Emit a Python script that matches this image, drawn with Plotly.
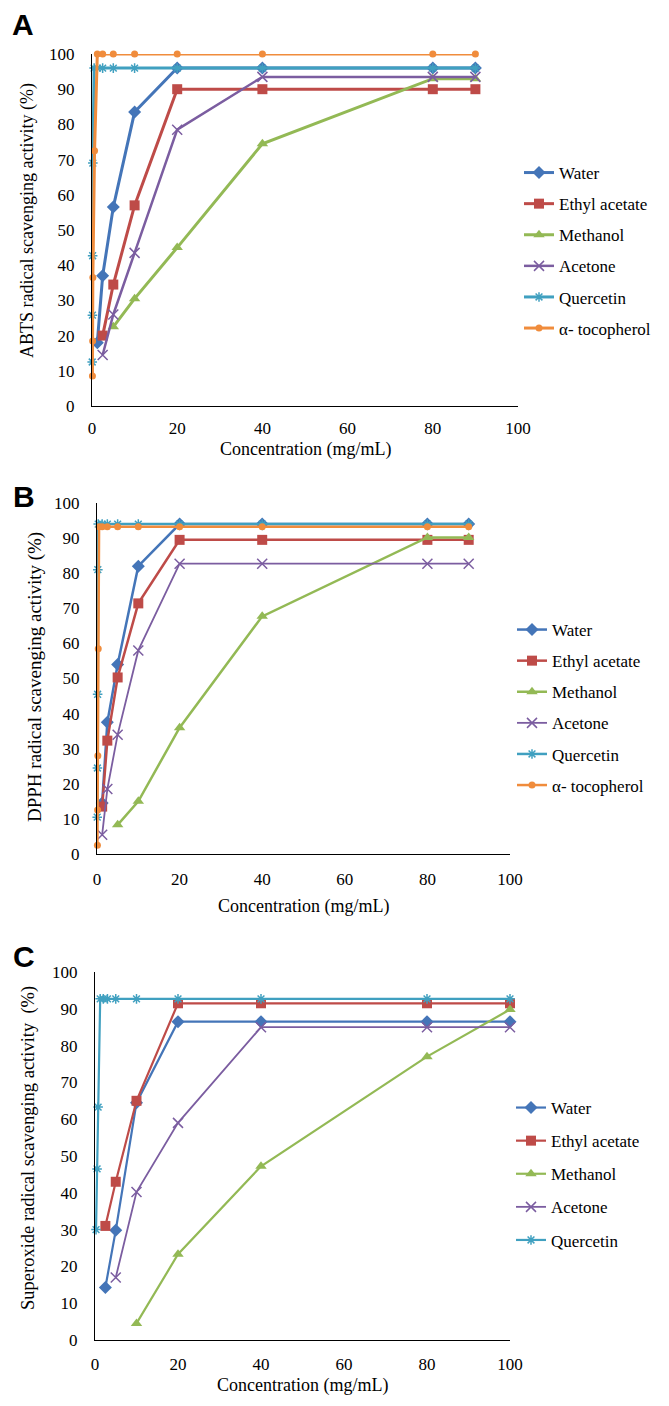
import plotly.graph_objects as go

W, H = 669, 1406
OFF = 8  # page body margin offset of the rendered figure

# ---------------- Panel A (ABTS) ----------------
water_x_A = [1.25, 2.5, 5, 10, 20, 40, 80, 90]
water_A = [18, 37, 56.5, 83.5, 96, 96, 96, 96]
ethyl_x_A = [2.5, 5, 10, 20, 40, 80, 90]
ethyl_A = [20, 34.5, 57, 90, 90, 90, 90]
methanol_x_A = [5, 10, 20, 40, 80, 90]
methanol_A = [22.5, 30.5, 45, 74.5, 93, 93]
acetone_x_A = [2.5, 5, 10, 20, 40, 80, 90]
acetone_A = [14.5, 26, 43.5, 78.5, 93.5, 93.5, 93.5]
quercetin_x_A = [0.05, 0.1, 0.15, 0.2, 0.5, 1.25, 2.5, 5, 10, 20, 40, 80, 90]
quercetin_A = [12.5, 25.8, 42.7, 69, 96, 96, 96, 96, 96, 96, 96, 96, 96]
toco_x_A = [0.1, 0.15, 0.2, 0.6, 1.25, 2.5, 5, 10, 20, 40, 80, 90]
toco_A = [8.5, 18.5, 36.5, 72.5, 100, 100, 100, 100, 100, 100, 100, 100]

# ---------------- Panel B (DPPH) ----------------
water_x_B = [1.25, 2.5, 5, 10, 20, 40, 80, 90]
water_B = [14.5, 37.5, 54, 82, 94, 94, 94, 94]
ethyl_x_B = [1.25, 2.5, 5, 10, 20, 40, 80, 90]
ethyl_B = [13.5, 32.3, 50.3, 71.4, 89.5, 89.5, 89.5, 89.5]
methanol_x_B = [5, 10, 20, 40, 80, 90]
methanol_B = [8.3, 15, 36, 67.7, 90.2, 90.2]
acetone_x_B = [1.25, 2.5, 5, 10, 20, 40, 80, 90]
acetone_B = [5.5, 18.5, 34, 58, 82.7, 82.7, 82.7, 82.7]
quercetin_x_B = [0.05, 0.1, 0.15, 0.2, 0.3, 1.25, 2.5, 5, 10, 20, 40, 80, 90]
quercetin_B = [10.5, 24.5, 45.5, 81, 94, 94, 94, 94, 94, 94, 94, 94, 94]
toco_x_B = [0.1, 0.15, 0.2, 0.3, 0.5, 1.25, 2.5, 5, 10, 20, 40, 80, 90]
toco_B = [2.5, 12.5, 28, 58.5, 93.2, 93.2, 93.2, 93.2, 93.2, 93.2, 93.2, 93.2, 93.2]

# ---------------- Panel C (Superoxide) ----------------
water_x_C = [2.5, 5, 10, 20, 40, 80, 100]
water_C = [14.3, 29.8, 64.5, 86.5, 86.5, 86.5, 86.5]
ethyl_x_C = [2.5, 5, 10, 20, 40, 80, 100]
ethyl_C = [31, 43, 65, 91.5, 91.5, 91.5, 91.5]
methanol_x_C = [10, 20, 40, 80, 100]
methanol_C = [4.5, 23.3, 47.2, 77, 89.8]
acetone_x_C = [5, 10, 20, 40, 80, 100]
acetone_C = [17, 40.2, 59, 85, 85, 85]
quercetin_x_C = [0.25, 0.5, 0.75, 1.25, 2, 3, 5, 10, 20, 40, 80, 100]
quercetin_C = [30, 46.5, 63.3, 92.7, 92.7, 92.7, 92.7, 92.7, 92.7, 92.7, 92.7, 92.7]

names = ["Water", "Ethyl acetate", "Methanol", "Acetone", "Quercetin", "α- tocopherol"]
x_ticks = [0, 20, 40, 60, 80, 100]
y_ticks = [0, 10, 20, 30, 40, 50, 60, 70, 80, 90, 100]

colors = {
    "Water": "#4475B8",
    "Ethyl acetate": "#BE4B48",
    "Methanol": "#93B955",
    "Acetone": "#7B5DA0",
    "Quercetin": "#40A0C0",
    "α- tocopherol": "#F08C3C",
}
symbols = {
    "Water": "diamond",
    "Ethyl acetate": "square",
    "Methanol": "triangle-up",
    "Acetone": "x-thin-open",
    "Quercetin": "asterisk-open",
    "α- tocopherol": "circle",
}
msizes = {
    "Water": 10,
    "Ethyl acetate": 10,
    "Methanol": 10,
    "Acetone": 10,
    "Quercetin": 8,
    "α- tocopherol": 7,
}

SERIF = "Liberation Serif, Times New Roman, serif"
SANS = "Liberation Sans, Arial, sans-serif"

panels = [
    ("x", "y", "legend", [
        (water_x_A, water_A), (ethyl_x_A, ethyl_A), (methanol_x_A, methanol_A),
        (acetone_x_A, acetone_A), (quercetin_x_A, quercetin_A), (toco_x_A, toco_A)],
     [3, 3, 3, 2.5, 3, 3]),
    ("x2", "y2", "legend2", [
        (water_x_B, water_B), (ethyl_x_B, ethyl_B), (methanol_x_B, methanol_B),
        (acetone_x_B, acetone_B), (quercetin_x_B, quercetin_B), (toco_x_B, toco_B)],
     [2.5, 2.5, 2.5, 1.8, 2.5, 2.5]),
    ("x3", "y3", "legend3", [
        (water_x_C, water_C), (ethyl_x_C, ethyl_C), (methanol_x_C, methanol_C),
        (acetone_x_C, acetone_C), (quercetin_x_C, quercetin_C)],
     [2.2, 2.2, 2.2, 1.8, 2.2]),
]

fig = go.Figure()
for xa, ya, lg, series, widths in panels:
    for i, (xs, ys) in enumerate(series):
        nm = names[i]
        sym = symbols[nm]
        open_sym = sym.endswith("open")
        fig.add_trace(go.Scatter(
            x=xs, y=ys, name=nm, xaxis=xa, yaxis=ya, legend=lg,
            legendgroup=lg + nm,
            mode="lines+markers", cliponaxis=False,
            line=dict(color=colors[nm], width=widths[i]),
            marker=dict(symbol=sym, size=msizes[nm], color=colors[nm],
                        line=dict(color=colors[nm], width=1.5 if open_sym else 0)),
        ))

def px_x(p):
    return (p - OFF) / W

def px_y(p):
    return 1 - (p - OFF) / H

axis_common = dict(
    range=[0, 100], showgrid=False, zeroline=False, showline=True,
    linecolor="black", linewidth=1.2, ticks="", automargin=False,
    tickfont=dict(family=SERIF, size=17, color="black"),
)

# target screen pixel positions: (x0, x1), (y_top, y_bottom), x-label standoff
doms = [
    ((92, 518), (54, 406), 6),
    ((97, 510), (503, 854), 9),
    ((95, 510), (972, 1340), 8),
]
layout = dict(
    width=W, height=H, margin=dict(l=0, r=0, t=0, b=0, autoexpand=False),
    paper_bgcolor="white", plot_bgcolor="white", showlegend=True,
)
for k, ((x0, x1), (yt, yb), so) in enumerate(doms):
    sfx = "" if k == 0 else str(k + 1)
    layout["xaxis" + sfx] = dict(axis_common, domain=[px_x(x0), px_x(x1)],
                                 anchor="y" + sfx, tickvals=x_ticks,
                                 ticklabelstandoff=so)
    layout["yaxis" + sfx] = dict(axis_common, domain=[px_y(yb), px_y(yt)],
                                 anchor="x" + sfx, tickvals=y_ticks,
                                 ticklabelstandoff=13)

# legend: (text left x, first item centre y, group gap)
leg_pos = [(560, 173, 6), (553, 630, 6), (552, 1108, 8)]
for k, (tx, ty, gap) in enumerate(leg_pos):
    key = "legend" if k == 0 else "legend" + str(k + 1)
    layout[key] = dict(
        x=px_x(tx - 41), y=px_y(ty - 18), xanchor="left", yanchor="top",
        traceorder="grouped", tracegroupgap=gap,
        font=dict(family=SERIF, size=17, color="black"),
        bgcolor="rgba(0,0,0,0)", itemwidth=30,
    )

fig.update_layout(**layout)

ann = []
for txt, x, y in [("A", 23, 24), ("B", 24, 497), ("C", 24, 956)]:
    ann.append(dict(text="<b>%s</b>" % txt, x=px_x(x), y=px_y(y), xref="paper", yref="paper",
                    xanchor="center", yanchor="middle",
                    showarrow=False, font=dict(family=SANS, size=30, color="black")))
for txt, x, y, fs in [("ABTS radical scavenging activity (%)", 28, 221, 18),
                      ("DPPH radical scavenging activity (%)", 35, 677, 19),
                      ("Superoxide radical scavenging activity  (%)", 28, 1148, 18.5)]:
    ann.append(dict(text=txt, x=px_x(x), y=px_y(y), xref="paper", yref="paper",
                    xanchor="center", yanchor="middle",
                    showarrow=False, textangle=-90,
                    font=dict(family=SERIF, size=fs, color="black")))
for x, y in [(305, 449), (303, 906), (302, 1385)]:
    ann.append(dict(text="Concentration (mg/mL)", x=px_x(x), y=px_y(y), xref="paper", yref="paper",
                    xanchor="center", yanchor="middle",
                    showarrow=False, font=dict(family=SERIF, size=18, color="black")))
fig.update_layout(annotations=ann)

fig.write_html("out.html")
